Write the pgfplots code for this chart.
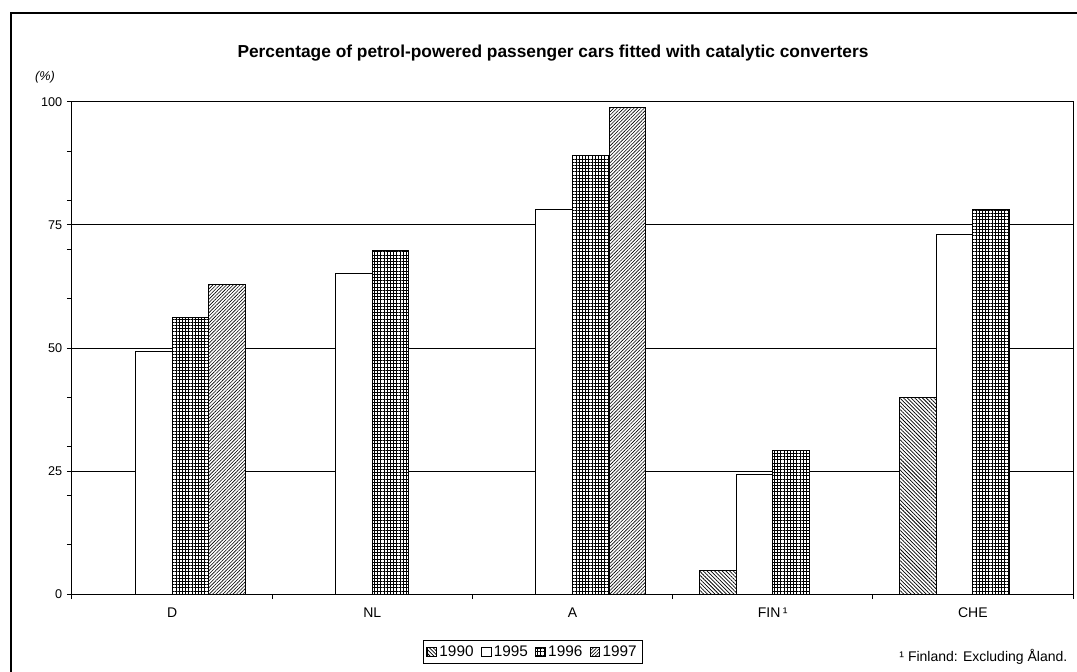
\documentclass[border=0pt]{standalone}
\usepackage{pgfplots}
\pgfplotsset{compat=1.18}
\usepackage{fontspec}
\setmainfont{Liberation Sans}
\usetikzlibrary{patterns.meta}

\begin{document}
\begin{tikzpicture}
\useasboundingbox (-54pt,-57.75pt) rectangle (753.75pt,445.5pt);
\begin{axis}[
  at={(0pt,0pt)}, anchor=south west,
  scale only axis, width=750.75pt, height=369pt,
  xmin=-0.5, xmax=4.5, ymin=0, ymax=100,
  axis line style={line width=0.75pt, black},
  ybar, bar width=27.4pt,
  xtick={0,1,2,3,4},
  xticklabels={D, NL, A, FIN\,¹, CHE},
  major x tick style={draw=none},
  minor xtick={-0.5,0.5,1.5,2.5,3.5,4.5},
  minor x tick style={line width=0.75pt, black},
  ytick={0,25,50,75,100},
  minor ytick={10,20,30,40,60,70,80,90},
  tick align=outside, tick pos=left,
  major tick length=3.75pt, minor tick length=3.75pt,
  tick style={line width=0.75pt, black},
  ymajorgrids,
  major grid style={line width=0.75pt, black},
  /pgf/number format/assume math mode=true,
  yticklabel style={font=\fontsize{9.5}{11}\selectfont},
  xticklabel style={font=\fontsize{10.5}{12}\selectfont, yshift=-3pt},
  legend columns=4,
  legend style={at={(0.4605,-0.1179)}, anchor=center, draw=black, line width=0.75pt,
    font=\fontsize{11.5}{12.5}\selectfont, inner xsep=2pt, inner ysep=2pt,
    /tikz/every even column/.append style={column sep=3.5pt}},
  legend image code/.code={\draw[#1, line width=0.5pt] (0pt,-3.6pt) rectangle (7.2pt,3.6pt);},
]
\addplot[draw=black, line width=0.75pt, bar shift=-41.1pt, preaction={fill=white},
  pattern={Lines[angle=-45,distance=2pt,line width=0.55pt]}, pattern color=black]
  coordinates {(3,4.7) (4,40)};
\addlegendentry{1990}
\addplot[draw=black, line width=0.75pt, fill=white, bar shift=-13.7pt]
  coordinates {(0,49.2) (1,65.2) (2,78.2) (3,24.3) (4,73.1)};
\addlegendentry{1995}
\addplot[draw=black, line width=0.75pt, bar shift=13.7pt, preaction={fill=white},
  pattern={Hatch[angle=0,distance=2.4pt,line width=0.6pt]}, pattern color=black]
  coordinates {(0,56.2) (1,69.9) (2,89.1) (3,29.1) (4,78.2)};
\addlegendentry{1996}
\addplot[draw=black, line width=0.75pt, bar shift=41.1pt, preaction={fill=white},
  pattern={Lines[angle=45,distance=1.8pt,line width=0.45pt]}, pattern color=black]
  coordinates {(0,63.0) (2,98.8)};
\addlegendentry{1997}
\end{axis}
\node[font=\bfseries\fontsize{13}{15}\selectfont] at (360.75pt,405.75pt)
  {Percentage of petrol-powered passenger cars fitted with catalytic converters};
\node[font=\itshape\fontsize{9.5}{11}\selectfont] at (-20.25pt,387.75pt) {(\%)};
\node[font=\fontsize{10.5}{12}\selectfont, anchor=east] at (750pt,-47.25pt)
  {¹ Finland: Excluding Åland.};
\draw[line width=1.6pt] (-45.75pt,-80pt) -- (-45.75pt,435.75pt) -- (800pt,435.75pt);
\end{tikzpicture}
\end{document}
